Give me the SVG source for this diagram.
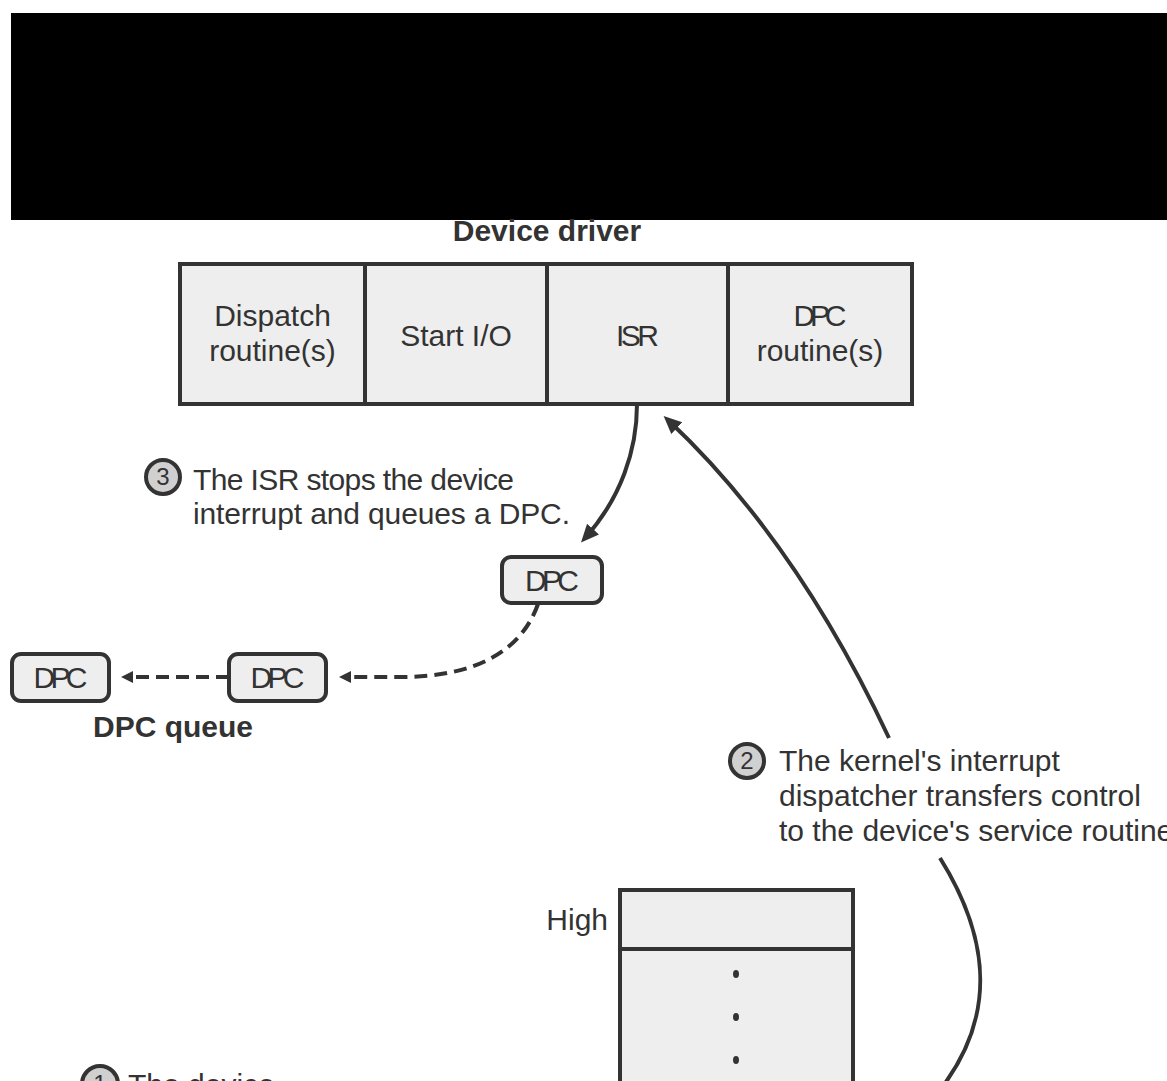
<svg xmlns="http://www.w3.org/2000/svg" width="1167" height="1081" viewBox="0 0 1167 1081">
<style>
.t{font-family:"Liberation Sans",Arial,sans-serif;font-size:30px;fill:#333}
.b{font-family:"Liberation Sans",Arial,sans-serif;font-size:30px;font-weight:bold;fill:#333}
.c{text-anchor:middle}
.cell{fill:#eeeeee;stroke:#333;stroke-width:4}
.dpc{fill:#eeeeee;stroke:#333;stroke-width:4}
.num{fill:#d0d0d0;stroke:#333;stroke-width:4}
.nt{font-family:"Liberation Sans",Arial,sans-serif;font-size:24px;fill:#333;text-anchor:middle}
.ln{fill:none;stroke:#333;stroke-width:4}
.dash{fill:none;stroke:#333;stroke-width:4;stroke-dasharray:13 7}
</style>
<defs>
<marker id="ah" markerUnits="userSpaceOnUse" markerWidth="20" markerHeight="18" refX="12" refY="8" orient="auto">
<path d="M0,0 L18,8 L0,16 z" fill="#333"/>
</marker>
<marker id="ahs" markerUnits="userSpaceOnUse" markerWidth="14" markerHeight="14" refX="8" refY="6" orient="auto">
<path d="M0,0 L12,6 L0,12 z" fill="#333"/>
</marker>
</defs>
<rect x="11" y="13" width="1160" height="207" fill="#000"/>

<g id="device-driver">
<text class="b c" x="547" y="241">Device driver</text>
<rect class="cell" x="180" y="264" width="185" height="140"/>
<rect class="cell" x="365" y="264" width="182" height="140"/>
<rect class="cell" x="547" y="264" width="181" height="140"/>
<rect class="cell" x="728" y="264" width="184" height="140"/>
<text class="t c" x="272.5" y="326">Dispatch</text>
<text class="t c" x="272.5" y="361">routine(s)</text>
<text class="t c" x="456" y="346">Start I/O</text>
<text class="t c" x="637.5" y="346" textLength="43">ISR</text>
<text class="t c" x="820" y="326" textLength="53">DPC</text>
<text class="t c" x="820" y="361">routine(s)</text>
</g>

<g id="note3">
<circle class="num" cx="163" cy="477" r="17"/>
<text class="nt" x="163" y="485">3</text>
<text class="t" x="193" y="490" textLength="321">The ISR stops the device</text>
<text class="t" x="193" y="524" textLength="377">interrupt and queues a DPC.</text>
</g>

<g id="dpc-new">
<rect class="dpc" x="502" y="557" width="100" height="46" rx="9"/>
<text class="t c" x="552" y="591" textLength="54">DPC</text>
</g>
<g id="dpc-q2">
<rect class="dpc" x="229" y="654" width="97" height="47" rx="9"/>
<text class="t c" x="277.5" y="688" textLength="54">DPC</text>
</g>
<g id="dpc-q1">
<rect class="dpc" x="12" y="654" width="97" height="47" rx="9"/>
<text class="t c" x="60.5" y="688" textLength="54">DPC</text>
</g>
<g id="dpc-queue-label">
<text class="b" x="93" y="737">DPC queue</text>
</g>

<g id="note2">
<circle class="num" cx="747" cy="761" r="17"/>
<text class="nt" x="747" y="769">2</text>
<text class="t" x="779" y="771">The kernel's interrupt</text>
<text class="t" x="779" y="806">dispatcher transfers control</text>
<text class="t" x="779" y="841">to the device's service routine</text>
</g>

<g id="irql-table">
<text class="t" x="608" y="930" text-anchor="end">High</text>
<rect class="cell" x="620" y="890" width="233" height="59"/>
<rect class="cell" x="620" y="949" width="233" height="160"/>
<ellipse cx="736" cy="974" rx="3" ry="4" fill="#333"/>
<ellipse cx="736" cy="1017" rx="3" ry="4" fill="#333"/>
<ellipse cx="736" cy="1060" rx="3" ry="4" fill="#333"/>
</g>

<g id="note1">
<circle class="num" cx="100" cy="1084" r="18"/>
<text class="nt" x="100" y="1092">1</text>
<text class="t" x="128" y="1095">The device</text>
</g>

<g id="connectors">
<path class="ln" d="M637,404 C637,450 621,498 585,538" marker-end="url(#ah)"/>
<path class="ln" d="M889,738 Q796,540 668,420" marker-end="url(#ah)"/>
<path class="dash" d="M538,604 C520,655 470,677 400,677 L343,677" marker-end="url(#ahs)"/>
<path class="dash" d="M229,677 L125,677" marker-end="url(#ahs)"/>
<path class="ln" d="M940,858 C985,930 1002,1010 940,1090"/>
</g>
</svg>
